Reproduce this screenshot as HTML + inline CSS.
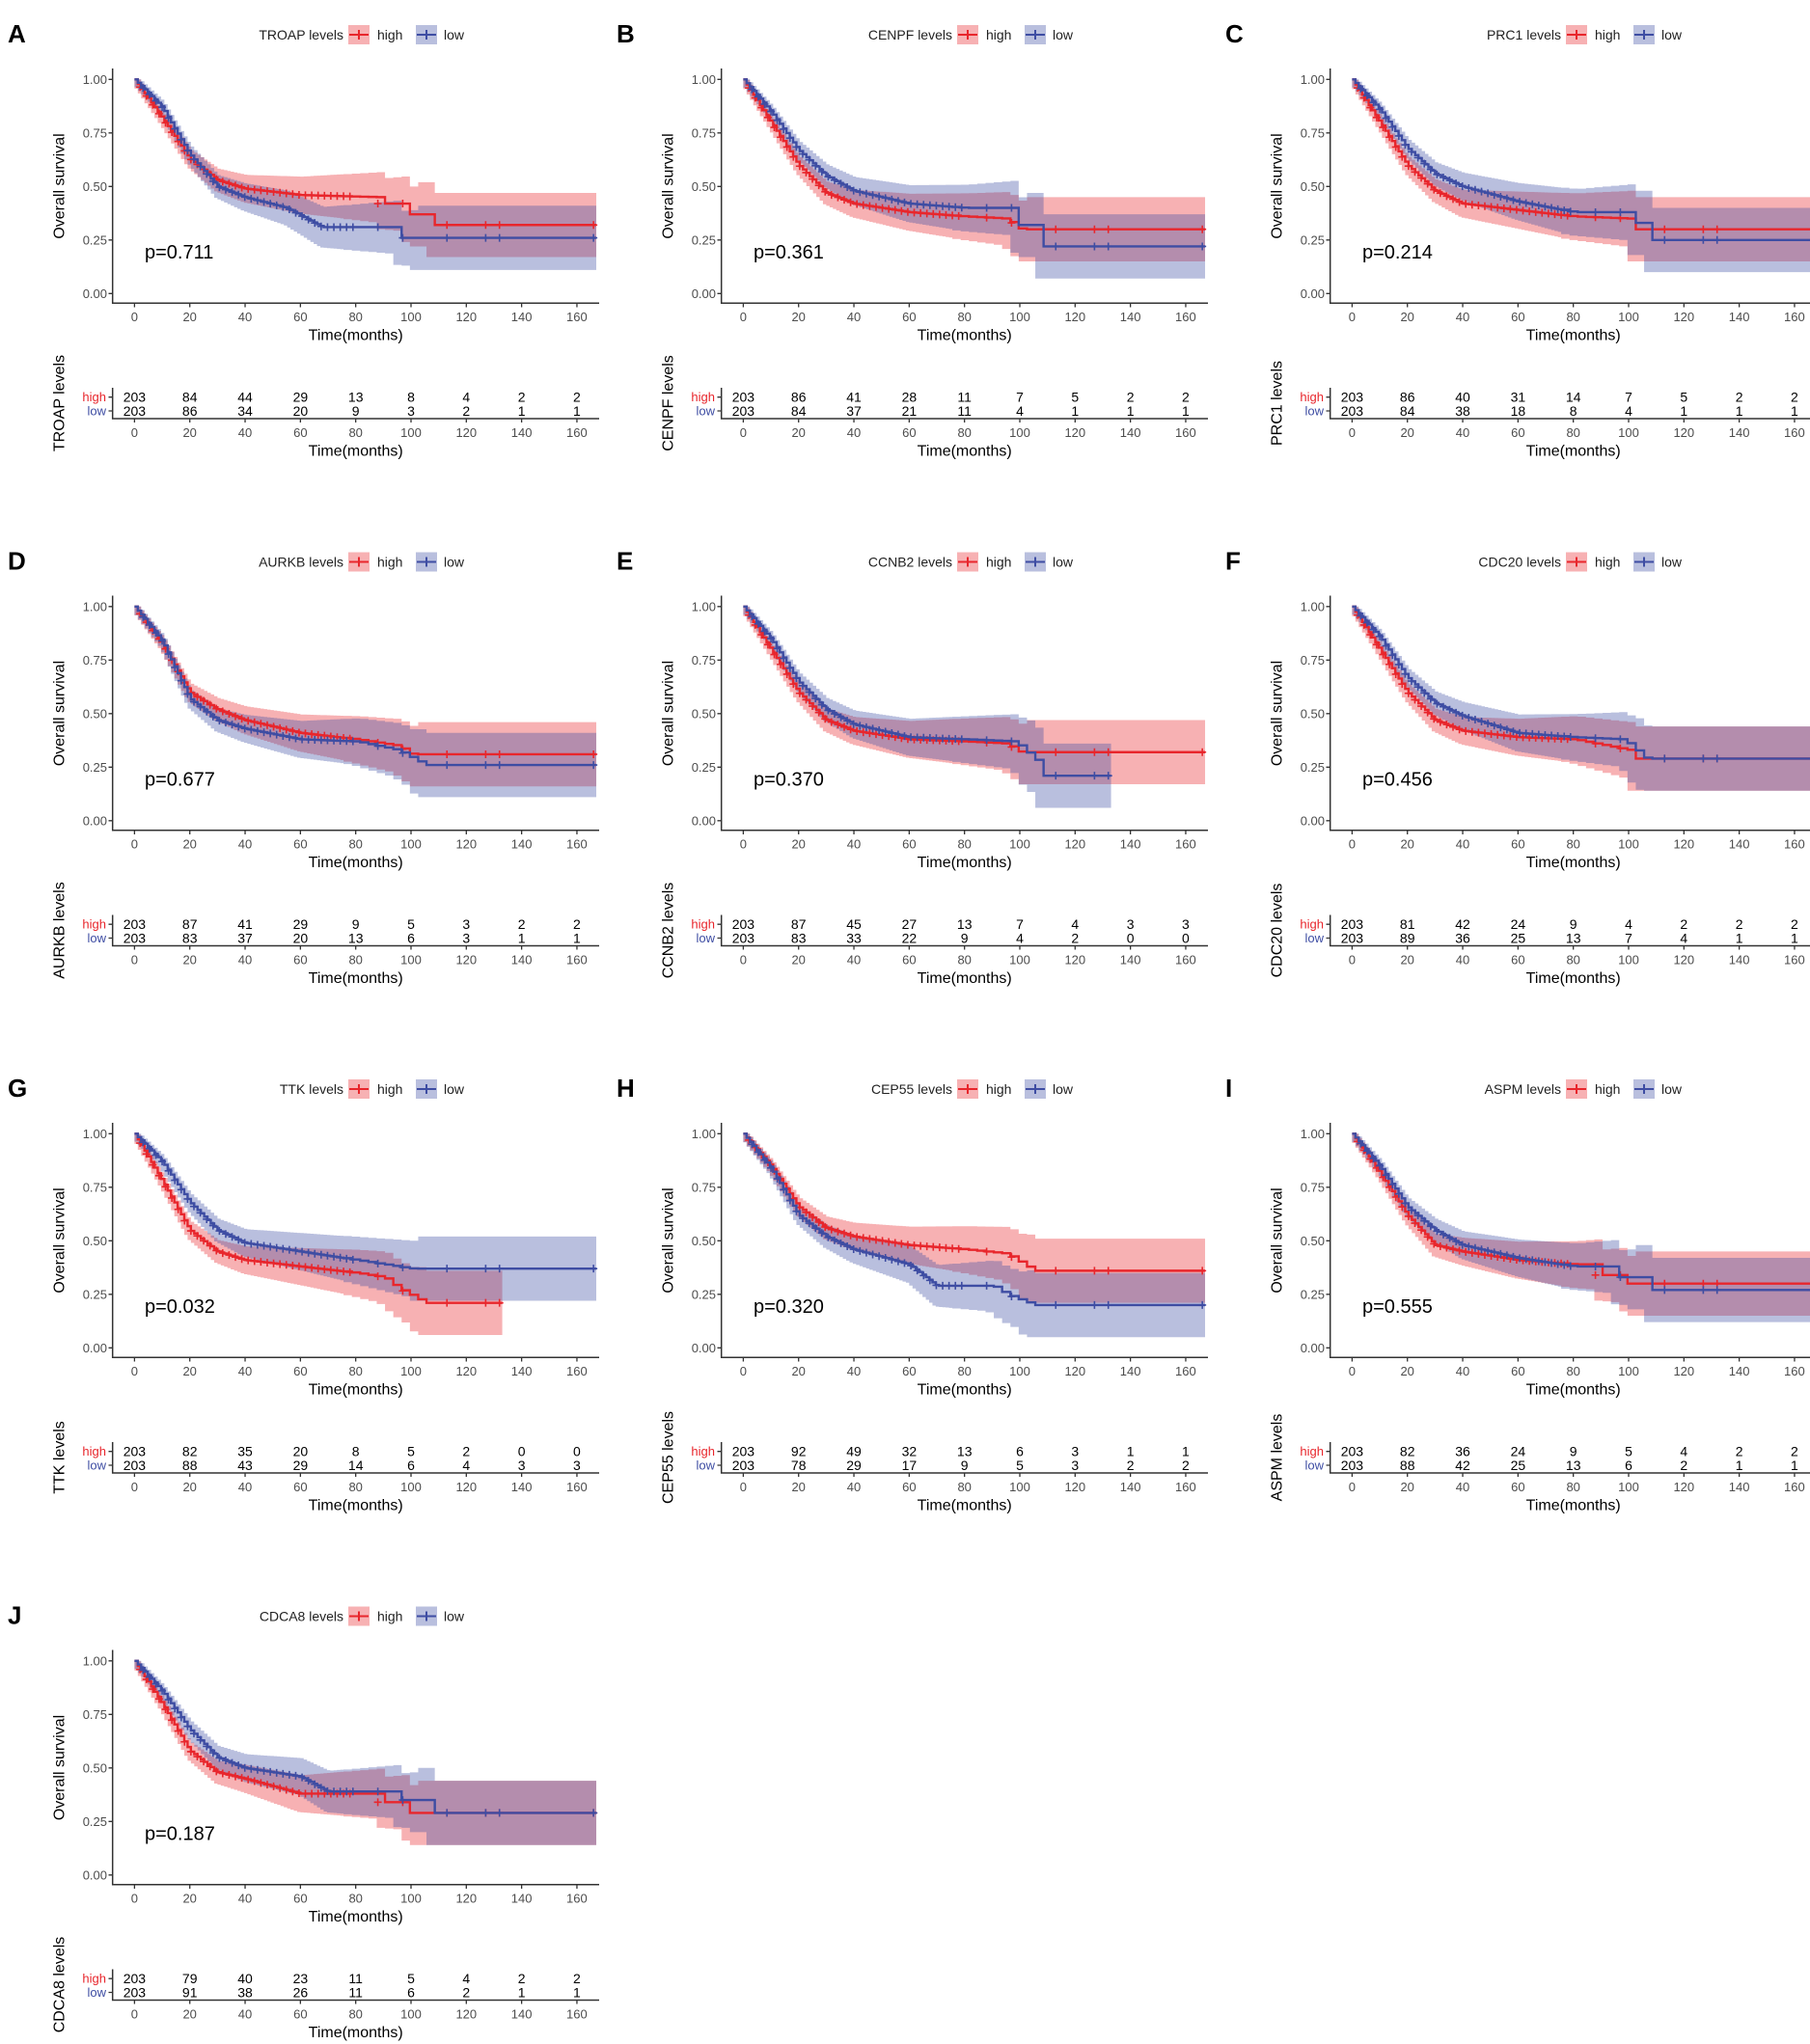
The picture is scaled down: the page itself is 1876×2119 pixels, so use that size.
<!DOCTYPE html>
<html><head><meta charset="utf-8">
<style>
html,body{margin:0;padding:0;background:#fff;}
svg{display:block;font-family:"Liberation Sans",Arial,sans-serif;}
.lt{font-size:26px;font-weight:bold;fill:#000;dominant-baseline:central;}
.lg{font-size:14px;fill:#222;dominant-baseline:central;}
.yt{font-size:13px;fill:#4d4d4d;text-anchor:end;dominant-baseline:central;}
.xt{font-size:13px;fill:#4d4d4d;text-anchor:middle;dominant-baseline:central;}
.xl{font-size:16px;fill:#000;text-anchor:middle;dominant-baseline:central;}
.pv{font-size:20px;fill:#000;dominant-baseline:central;}
.n{font-size:14px;fill:#000;text-anchor:middle;dominant-baseline:central;}
.hl{font-size:13px;fill:#e8262c;text-anchor:end;dominant-baseline:central;}
.lw{font-size:13px;fill:#3e4da3;text-anchor:end;dominant-baseline:central;}
</style></head><body>
<svg id="s" width="1876" height="2119" viewBox="0 0 1876 2119" xmlns="http://www.w3.org/2000/svg">
<rect width="1876" height="2119" fill="#fff"/>

<!-- Panel A -->
<g transform="translate(0,0)">
<g class="plot" data-k="A"></g>
<text x="8" y="35" class="lt">A</text>
<text x="356" y="36" class="lg" text-anchor="end">TROAP levels</text><text x="391" y="36" class="lg">high</text><text x="460" y="36" class="lg">low</text>
<text x="150" y="262" class="pv">p=0.711</text>
<text class="yt" x="111" y="82.3">1.00</text><text class="yt" x="111" y="137.8">0.75</text><text class="yt" x="111" y="193.3">0.50</text><text class="yt" x="111" y="248.8">0.25</text><text class="yt" x="111" y="304.3">0.00</text>
<text class="xt" y="328"><tspan x="139.4">0</tspan><tspan x="196.7">20</tspan><tspan x="254">40</tspan><tspan x="311.4">60</tspan><tspan x="368.7">80</tspan><tspan x="426">100</tspan><tspan x="483.3">120</tspan><tspan x="540.6">140</tspan><tspan x="597.9">160</tspan></text>
<text class="xl" x="368.7" y="348">Time(months)</text>
<text class="xl" transform="translate(62,193) rotate(-90)">Overall survival</text>
<text class="hl" x="110" y="411.7">high</text><text class="lw" x="110" y="426">low</text>
<text class="xt" y="448"><tspan x="139.4">0</tspan><tspan x="196.7">20</tspan><tspan x="254">40</tspan><tspan x="311.4">60</tspan><tspan x="368.7">80</tspan><tspan x="426">100</tspan><tspan x="483.3">120</tspan><tspan x="540.6">140</tspan><tspan x="597.9">160</tspan></text>
<text class="xl" x="368.7" y="468">Time(months)</text>
<text class="n" y="411.7"><tspan x="139.4">203</tspan><tspan x="196.7">84</tspan><tspan x="254">44</tspan><tspan x="311.4">29</tspan><tspan x="368.7">13</tspan><tspan x="426">8</tspan><tspan x="483.3">4</tspan><tspan x="540.6">2</tspan><tspan x="597.9">2</tspan></text>
<text class="n" y="426"><tspan x="139.4">203</tspan><tspan x="196.7">86</tspan><tspan x="254">34</tspan><tspan x="311.4">20</tspan><tspan x="368.7">9</tspan><tspan x="426">3</tspan><tspan x="483.3">2</tspan><tspan x="540.6">1</tspan><tspan x="597.9">1</tspan></text>
<text class="xl" transform="translate(62,418) rotate(-90)">TROAP levels</text>
</g>

<!-- Panel B -->
<g transform="translate(631,0)">
<g class="plot" data-k="B"></g>
<text x="8" y="35" class="lt">B</text>
<text x="356" y="36" class="lg" text-anchor="end">CENPF levels</text><text x="391" y="36" class="lg">high</text><text x="460" y="36" class="lg">low</text>
<text x="150" y="262" class="pv">p=0.361</text>
<text class="yt" x="111" y="82.3">1.00</text><text class="yt" x="111" y="137.8">0.75</text><text class="yt" x="111" y="193.3">0.50</text><text class="yt" x="111" y="248.8">0.25</text><text class="yt" x="111" y="304.3">0.00</text>
<text class="xt" y="328"><tspan x="139.4">0</tspan><tspan x="196.7">20</tspan><tspan x="254">40</tspan><tspan x="311.4">60</tspan><tspan x="368.7">80</tspan><tspan x="426">100</tspan><tspan x="483.3">120</tspan><tspan x="540.6">140</tspan><tspan x="597.9">160</tspan></text>
<text class="xl" x="368.7" y="348">Time(months)</text>
<text class="xl" transform="translate(62,193) rotate(-90)">Overall survival</text>
<text class="hl" x="110" y="411.7">high</text><text class="lw" x="110" y="426">low</text>
<text class="xt" y="448"><tspan x="139.4">0</tspan><tspan x="196.7">20</tspan><tspan x="254">40</tspan><tspan x="311.4">60</tspan><tspan x="368.7">80</tspan><tspan x="426">100</tspan><tspan x="483.3">120</tspan><tspan x="540.6">140</tspan><tspan x="597.9">160</tspan></text>
<text class="xl" x="368.7" y="468">Time(months)</text>
<text class="n" y="411.7"><tspan x="139.4">203</tspan><tspan x="196.7">86</tspan><tspan x="254">41</tspan><tspan x="311.4">28</tspan><tspan x="368.7">11</tspan><tspan x="426">7</tspan><tspan x="483.3">5</tspan><tspan x="540.6">2</tspan><tspan x="597.9">2</tspan></text>
<text class="n" y="426"><tspan x="139.4">203</tspan><tspan x="196.7">84</tspan><tspan x="254">37</tspan><tspan x="311.4">21</tspan><tspan x="368.7">11</tspan><tspan x="426">4</tspan><tspan x="483.3">1</tspan><tspan x="540.6">1</tspan><tspan x="597.9">1</tspan></text>
<text class="xl" transform="translate(62,418) rotate(-90)">CENPF levels</text>
</g>

<!-- Panel C -->
<g transform="translate(1262,0)">
<g class="plot" data-k="C"></g>
<text x="8" y="35" class="lt">C</text>
<text x="356" y="36" class="lg" text-anchor="end">PRC1 levels</text><text x="391" y="36" class="lg">high</text><text x="460" y="36" class="lg">low</text>
<text x="150" y="262" class="pv">p=0.214</text>
<text class="yt" x="111" y="82.3">1.00</text><text class="yt" x="111" y="137.8">0.75</text><text class="yt" x="111" y="193.3">0.50</text><text class="yt" x="111" y="248.8">0.25</text><text class="yt" x="111" y="304.3">0.00</text>
<text class="xt" y="328"><tspan x="139.4">0</tspan><tspan x="196.7">20</tspan><tspan x="254">40</tspan><tspan x="311.4">60</tspan><tspan x="368.7">80</tspan><tspan x="426">100</tspan><tspan x="483.3">120</tspan><tspan x="540.6">140</tspan><tspan x="597.9">160</tspan></text>
<text class="xl" x="368.7" y="348">Time(months)</text>
<text class="xl" transform="translate(62,193) rotate(-90)">Overall survival</text>
<text class="hl" x="110" y="411.7">high</text><text class="lw" x="110" y="426">low</text>
<text class="xt" y="448"><tspan x="139.4">0</tspan><tspan x="196.7">20</tspan><tspan x="254">40</tspan><tspan x="311.4">60</tspan><tspan x="368.7">80</tspan><tspan x="426">100</tspan><tspan x="483.3">120</tspan><tspan x="540.6">140</tspan><tspan x="597.9">160</tspan></text>
<text class="xl" x="368.7" y="468">Time(months)</text>
<text class="n" y="411.7"><tspan x="139.4">203</tspan><tspan x="196.7">86</tspan><tspan x="254">40</tspan><tspan x="311.4">31</tspan><tspan x="368.7">14</tspan><tspan x="426">7</tspan><tspan x="483.3">5</tspan><tspan x="540.6">2</tspan><tspan x="597.9">2</tspan></text>
<text class="n" y="426"><tspan x="139.4">203</tspan><tspan x="196.7">84</tspan><tspan x="254">38</tspan><tspan x="311.4">18</tspan><tspan x="368.7">8</tspan><tspan x="426">4</tspan><tspan x="483.3">1</tspan><tspan x="540.6">1</tspan><tspan x="597.9">1</tspan></text>
<text class="xl" transform="translate(62,418) rotate(-90)">PRC1 levels</text>
</g>

<!-- Panel D -->
<g transform="translate(0,546.5)">
<g class="plot" data-k="D"></g>
<text x="8" y="35" class="lt">D</text>
<text x="356" y="36" class="lg" text-anchor="end">AURKB levels</text><text x="391" y="36" class="lg">high</text><text x="460" y="36" class="lg">low</text>
<text x="150" y="262" class="pv">p=0.677</text>
<text class="yt" x="111" y="82.3">1.00</text><text class="yt" x="111" y="137.8">0.75</text><text class="yt" x="111" y="193.3">0.50</text><text class="yt" x="111" y="248.8">0.25</text><text class="yt" x="111" y="304.3">0.00</text>
<text class="xt" y="328"><tspan x="139.4">0</tspan><tspan x="196.7">20</tspan><tspan x="254">40</tspan><tspan x="311.4">60</tspan><tspan x="368.7">80</tspan><tspan x="426">100</tspan><tspan x="483.3">120</tspan><tspan x="540.6">140</tspan><tspan x="597.9">160</tspan></text>
<text class="xl" x="368.7" y="348">Time(months)</text>
<text class="xl" transform="translate(62,193) rotate(-90)">Overall survival</text>
<text class="hl" x="110" y="411.7">high</text><text class="lw" x="110" y="426">low</text>
<text class="xt" y="448"><tspan x="139.4">0</tspan><tspan x="196.7">20</tspan><tspan x="254">40</tspan><tspan x="311.4">60</tspan><tspan x="368.7">80</tspan><tspan x="426">100</tspan><tspan x="483.3">120</tspan><tspan x="540.6">140</tspan><tspan x="597.9">160</tspan></text>
<text class="xl" x="368.7" y="468">Time(months)</text>
<text class="n" y="411.7"><tspan x="139.4">203</tspan><tspan x="196.7">87</tspan><tspan x="254">41</tspan><tspan x="311.4">29</tspan><tspan x="368.7">9</tspan><tspan x="426">5</tspan><tspan x="483.3">3</tspan><tspan x="540.6">2</tspan><tspan x="597.9">2</tspan></text>
<text class="n" y="426"><tspan x="139.4">203</tspan><tspan x="196.7">83</tspan><tspan x="254">37</tspan><tspan x="311.4">20</tspan><tspan x="368.7">13</tspan><tspan x="426">6</tspan><tspan x="483.3">3</tspan><tspan x="540.6">1</tspan><tspan x="597.9">1</tspan></text>
<text class="xl" transform="translate(62,418) rotate(-90)">AURKB levels</text>
</g>

<!-- Panel E -->
<g transform="translate(631,546.5)">
<g class="plot" data-k="E"></g>
<text x="8" y="35" class="lt">E</text>
<text x="356" y="36" class="lg" text-anchor="end">CCNB2 levels</text><text x="391" y="36" class="lg">high</text><text x="460" y="36" class="lg">low</text>
<text x="150" y="262" class="pv">p=0.370</text>
<text class="yt" x="111" y="82.3">1.00</text><text class="yt" x="111" y="137.8">0.75</text><text class="yt" x="111" y="193.3">0.50</text><text class="yt" x="111" y="248.8">0.25</text><text class="yt" x="111" y="304.3">0.00</text>
<text class="xt" y="328"><tspan x="139.4">0</tspan><tspan x="196.7">20</tspan><tspan x="254">40</tspan><tspan x="311.4">60</tspan><tspan x="368.7">80</tspan><tspan x="426">100</tspan><tspan x="483.3">120</tspan><tspan x="540.6">140</tspan><tspan x="597.9">160</tspan></text>
<text class="xl" x="368.7" y="348">Time(months)</text>
<text class="xl" transform="translate(62,193) rotate(-90)">Overall survival</text>
<text class="hl" x="110" y="411.7">high</text><text class="lw" x="110" y="426">low</text>
<text class="xt" y="448"><tspan x="139.4">0</tspan><tspan x="196.7">20</tspan><tspan x="254">40</tspan><tspan x="311.4">60</tspan><tspan x="368.7">80</tspan><tspan x="426">100</tspan><tspan x="483.3">120</tspan><tspan x="540.6">140</tspan><tspan x="597.9">160</tspan></text>
<text class="xl" x="368.7" y="468">Time(months)</text>
<text class="n" y="411.7"><tspan x="139.4">203</tspan><tspan x="196.7">87</tspan><tspan x="254">45</tspan><tspan x="311.4">27</tspan><tspan x="368.7">13</tspan><tspan x="426">7</tspan><tspan x="483.3">4</tspan><tspan x="540.6">3</tspan><tspan x="597.9">3</tspan></text>
<text class="n" y="426"><tspan x="139.4">203</tspan><tspan x="196.7">83</tspan><tspan x="254">33</tspan><tspan x="311.4">22</tspan><tspan x="368.7">9</tspan><tspan x="426">4</tspan><tspan x="483.3">2</tspan><tspan x="540.6">0</tspan><tspan x="597.9">0</tspan></text>
<text class="xl" transform="translate(62,418) rotate(-90)">CCNB2 levels</text>
</g>

<!-- Panel F -->
<g transform="translate(1262,546.5)">
<g class="plot" data-k="F"></g>
<text x="8" y="35" class="lt">F</text>
<text x="356" y="36" class="lg" text-anchor="end">CDC20 levels</text><text x="391" y="36" class="lg">high</text><text x="460" y="36" class="lg">low</text>
<text x="150" y="262" class="pv">p=0.456</text>
<text class="yt" x="111" y="82.3">1.00</text><text class="yt" x="111" y="137.8">0.75</text><text class="yt" x="111" y="193.3">0.50</text><text class="yt" x="111" y="248.8">0.25</text><text class="yt" x="111" y="304.3">0.00</text>
<text class="xt" y="328"><tspan x="139.4">0</tspan><tspan x="196.7">20</tspan><tspan x="254">40</tspan><tspan x="311.4">60</tspan><tspan x="368.7">80</tspan><tspan x="426">100</tspan><tspan x="483.3">120</tspan><tspan x="540.6">140</tspan><tspan x="597.9">160</tspan></text>
<text class="xl" x="368.7" y="348">Time(months)</text>
<text class="xl" transform="translate(62,193) rotate(-90)">Overall survival</text>
<text class="hl" x="110" y="411.7">high</text><text class="lw" x="110" y="426">low</text>
<text class="xt" y="448"><tspan x="139.4">0</tspan><tspan x="196.7">20</tspan><tspan x="254">40</tspan><tspan x="311.4">60</tspan><tspan x="368.7">80</tspan><tspan x="426">100</tspan><tspan x="483.3">120</tspan><tspan x="540.6">140</tspan><tspan x="597.9">160</tspan></text>
<text class="xl" x="368.7" y="468">Time(months)</text>
<text class="n" y="411.7"><tspan x="139.4">203</tspan><tspan x="196.7">81</tspan><tspan x="254">42</tspan><tspan x="311.4">24</tspan><tspan x="368.7">9</tspan><tspan x="426">4</tspan><tspan x="483.3">2</tspan><tspan x="540.6">2</tspan><tspan x="597.9">2</tspan></text>
<text class="n" y="426"><tspan x="139.4">203</tspan><tspan x="196.7">89</tspan><tspan x="254">36</tspan><tspan x="311.4">25</tspan><tspan x="368.7">13</tspan><tspan x="426">7</tspan><tspan x="483.3">4</tspan><tspan x="540.6">1</tspan><tspan x="597.9">1</tspan></text>
<text class="xl" transform="translate(62,418) rotate(-90)">CDC20 levels</text>
</g>

<!-- Panel G -->
<g transform="translate(0,1093)">
<g class="plot" data-k="G"></g>
<text x="8" y="35" class="lt">G</text>
<text x="356" y="36" class="lg" text-anchor="end">TTK levels</text><text x="391" y="36" class="lg">high</text><text x="460" y="36" class="lg">low</text>
<text x="150" y="262" class="pv">p=0.032</text>
<text class="yt" x="111" y="82.3">1.00</text><text class="yt" x="111" y="137.8">0.75</text><text class="yt" x="111" y="193.3">0.50</text><text class="yt" x="111" y="248.8">0.25</text><text class="yt" x="111" y="304.3">0.00</text>
<text class="xt" y="328"><tspan x="139.4">0</tspan><tspan x="196.7">20</tspan><tspan x="254">40</tspan><tspan x="311.4">60</tspan><tspan x="368.7">80</tspan><tspan x="426">100</tspan><tspan x="483.3">120</tspan><tspan x="540.6">140</tspan><tspan x="597.9">160</tspan></text>
<text class="xl" x="368.7" y="348">Time(months)</text>
<text class="xl" transform="translate(62,193) rotate(-90)">Overall survival</text>
<text class="hl" x="110" y="411.7">high</text><text class="lw" x="110" y="426">low</text>
<text class="xt" y="448"><tspan x="139.4">0</tspan><tspan x="196.7">20</tspan><tspan x="254">40</tspan><tspan x="311.4">60</tspan><tspan x="368.7">80</tspan><tspan x="426">100</tspan><tspan x="483.3">120</tspan><tspan x="540.6">140</tspan><tspan x="597.9">160</tspan></text>
<text class="xl" x="368.7" y="468">Time(months)</text>
<text class="n" y="411.7"><tspan x="139.4">203</tspan><tspan x="196.7">82</tspan><tspan x="254">35</tspan><tspan x="311.4">20</tspan><tspan x="368.7">8</tspan><tspan x="426">5</tspan><tspan x="483.3">2</tspan><tspan x="540.6">0</tspan><tspan x="597.9">0</tspan></text>
<text class="n" y="426"><tspan x="139.4">203</tspan><tspan x="196.7">88</tspan><tspan x="254">43</tspan><tspan x="311.4">29</tspan><tspan x="368.7">14</tspan><tspan x="426">6</tspan><tspan x="483.3">4</tspan><tspan x="540.6">3</tspan><tspan x="597.9">3</tspan></text>
<text class="xl" transform="translate(62,418) rotate(-90)">TTK levels</text>
</g>

<!-- Panel H -->
<g transform="translate(631,1093)">
<g class="plot" data-k="H"></g>
<text x="8" y="35" class="lt">H</text>
<text x="356" y="36" class="lg" text-anchor="end">CEP55 levels</text><text x="391" y="36" class="lg">high</text><text x="460" y="36" class="lg">low</text>
<text x="150" y="262" class="pv">p=0.320</text>
<text class="yt" x="111" y="82.3">1.00</text><text class="yt" x="111" y="137.8">0.75</text><text class="yt" x="111" y="193.3">0.50</text><text class="yt" x="111" y="248.8">0.25</text><text class="yt" x="111" y="304.3">0.00</text>
<text class="xt" y="328"><tspan x="139.4">0</tspan><tspan x="196.7">20</tspan><tspan x="254">40</tspan><tspan x="311.4">60</tspan><tspan x="368.7">80</tspan><tspan x="426">100</tspan><tspan x="483.3">120</tspan><tspan x="540.6">140</tspan><tspan x="597.9">160</tspan></text>
<text class="xl" x="368.7" y="348">Time(months)</text>
<text class="xl" transform="translate(62,193) rotate(-90)">Overall survival</text>
<text class="hl" x="110" y="411.7">high</text><text class="lw" x="110" y="426">low</text>
<text class="xt" y="448"><tspan x="139.4">0</tspan><tspan x="196.7">20</tspan><tspan x="254">40</tspan><tspan x="311.4">60</tspan><tspan x="368.7">80</tspan><tspan x="426">100</tspan><tspan x="483.3">120</tspan><tspan x="540.6">140</tspan><tspan x="597.9">160</tspan></text>
<text class="xl" x="368.7" y="468">Time(months)</text>
<text class="n" y="411.7"><tspan x="139.4">203</tspan><tspan x="196.7">92</tspan><tspan x="254">49</tspan><tspan x="311.4">32</tspan><tspan x="368.7">13</tspan><tspan x="426">6</tspan><tspan x="483.3">3</tspan><tspan x="540.6">1</tspan><tspan x="597.9">1</tspan></text>
<text class="n" y="426"><tspan x="139.4">203</tspan><tspan x="196.7">78</tspan><tspan x="254">29</tspan><tspan x="311.4">17</tspan><tspan x="368.7">9</tspan><tspan x="426">5</tspan><tspan x="483.3">3</tspan><tspan x="540.6">2</tspan><tspan x="597.9">2</tspan></text>
<text class="xl" transform="translate(62,418) rotate(-90)">CEP55 levels</text>
</g>

<!-- Panel I -->
<g transform="translate(1262,1093)">
<g class="plot" data-k="I"></g>
<text x="8" y="35" class="lt">I</text>
<text x="356" y="36" class="lg" text-anchor="end">ASPM levels</text><text x="391" y="36" class="lg">high</text><text x="460" y="36" class="lg">low</text>
<text x="150" y="262" class="pv">p=0.555</text>
<text class="yt" x="111" y="82.3">1.00</text><text class="yt" x="111" y="137.8">0.75</text><text class="yt" x="111" y="193.3">0.50</text><text class="yt" x="111" y="248.8">0.25</text><text class="yt" x="111" y="304.3">0.00</text>
<text class="xt" y="328"><tspan x="139.4">0</tspan><tspan x="196.7">20</tspan><tspan x="254">40</tspan><tspan x="311.4">60</tspan><tspan x="368.7">80</tspan><tspan x="426">100</tspan><tspan x="483.3">120</tspan><tspan x="540.6">140</tspan><tspan x="597.9">160</tspan></text>
<text class="xl" x="368.7" y="348">Time(months)</text>
<text class="xl" transform="translate(62,193) rotate(-90)">Overall survival</text>
<text class="hl" x="110" y="411.7">high</text><text class="lw" x="110" y="426">low</text>
<text class="xt" y="448"><tspan x="139.4">0</tspan><tspan x="196.7">20</tspan><tspan x="254">40</tspan><tspan x="311.4">60</tspan><tspan x="368.7">80</tspan><tspan x="426">100</tspan><tspan x="483.3">120</tspan><tspan x="540.6">140</tspan><tspan x="597.9">160</tspan></text>
<text class="xl" x="368.7" y="468">Time(months)</text>
<text class="n" y="411.7"><tspan x="139.4">203</tspan><tspan x="196.7">82</tspan><tspan x="254">36</tspan><tspan x="311.4">24</tspan><tspan x="368.7">9</tspan><tspan x="426">5</tspan><tspan x="483.3">4</tspan><tspan x="540.6">2</tspan><tspan x="597.9">2</tspan></text>
<text class="n" y="426"><tspan x="139.4">203</tspan><tspan x="196.7">88</tspan><tspan x="254">42</tspan><tspan x="311.4">25</tspan><tspan x="368.7">13</tspan><tspan x="426">6</tspan><tspan x="483.3">2</tspan><tspan x="540.6">1</tspan><tspan x="597.9">1</tspan></text>
<text class="xl" transform="translate(62,418) rotate(-90)">ASPM levels</text>
</g>

<!-- Panel J -->
<g transform="translate(0,1639.5)">
<g class="plot" data-k="J"></g>
<text x="8" y="35" class="lt">J</text>
<text x="356" y="36" class="lg" text-anchor="end">CDCA8 levels</text><text x="391" y="36" class="lg">high</text><text x="460" y="36" class="lg">low</text>
<text x="150" y="262" class="pv">p=0.187</text>
<text class="yt" x="111" y="82.3">1.00</text><text class="yt" x="111" y="137.8">0.75</text><text class="yt" x="111" y="193.3">0.50</text><text class="yt" x="111" y="248.8">0.25</text><text class="yt" x="111" y="304.3">0.00</text>
<text class="xt" y="328"><tspan x="139.4">0</tspan><tspan x="196.7">20</tspan><tspan x="254">40</tspan><tspan x="311.4">60</tspan><tspan x="368.7">80</tspan><tspan x="426">100</tspan><tspan x="483.3">120</tspan><tspan x="540.6">140</tspan><tspan x="597.9">160</tspan></text>
<text class="xl" x="368.7" y="348">Time(months)</text>
<text class="xl" transform="translate(62,193) rotate(-90)">Overall survival</text>
<text class="hl" x="110" y="411.7">high</text><text class="lw" x="110" y="426">low</text>
<text class="xt" y="448"><tspan x="139.4">0</tspan><tspan x="196.7">20</tspan><tspan x="254">40</tspan><tspan x="311.4">60</tspan><tspan x="368.7">80</tspan><tspan x="426">100</tspan><tspan x="483.3">120</tspan><tspan x="540.6">140</tspan><tspan x="597.9">160</tspan></text>
<text class="xl" x="368.7" y="468">Time(months)</text>
<text class="n" y="411.7"><tspan x="139.4">203</tspan><tspan x="196.7">79</tspan><tspan x="254">40</tspan><tspan x="311.4">23</tspan><tspan x="368.7">11</tspan><tspan x="426">5</tspan><tspan x="483.3">4</tspan><tspan x="540.6">2</tspan><tspan x="597.9">2</tspan></text>
<text class="n" y="426"><tspan x="139.4">203</tspan><tspan x="196.7">91</tspan><tspan x="254">38</tspan><tspan x="311.4">26</tspan><tspan x="368.7">11</tspan><tspan x="426">6</tspan><tspan x="483.3">2</tspan><tspan x="540.6">1</tspan><tspan x="597.9">1</tspan></text>
<text class="xl" transform="translate(62,418) rotate(-90)">CDCA8 levels</text>
</g>
</svg>
<script>
(function(){
var NS="http://www.w3.org/2000/svg";
var RED="#e8262c",BLUE="#3e4da3";
function X(t){return 139.4+t*2.866;}
function Y(v){return 82.3+(1-v)*222;}
var D={
A:{h:[[0,1],[10,.82],[20,.63],[30,.53],[40,.49],[60,.46],[88,.45],[88,.42],[98,.42],[98,.37],[106,.37],[106,.32],[167,.32]],
   l:[[0,1],[10,.87],[20,.65],[30,.5],[40,.45],[55,.40],[68,.31],[94,.31],[94,.26],[167,.26]],he:167,le:167},
B:{h:[[0,1],[10,.8],[20,.6],[30,.47],[40,.42],[60,.38],[80,.36],[95,.35],[100,.3],[167,.3]],
   l:[[0,1],[10,.85],[20,.67],[30,.55],[40,.48],[60,.42],[80,.4],[98,.4],[98,.32],[106,.32],[106,.22],[167,.22]],he:167,le:167},
C:{h:[[0,1],[10,.8],[20,.6],[30,.48],[40,.42],[60,.39],[80,.36],[100,.35],[100,.3],[167,.3]],
   l:[[0,1],[10,.86],[20,.68],[30,.56],[40,.5],[60,.43],[80,.38],[100,.38],[100,.33],[106,.33],[106,.25],[167,.25]],he:167,le:167},
D:{h:[[0,1],[10,.83],[20,.6],[30,.52],[40,.47],[60,.41],[80,.38],[95,.35],[100,.31],[167,.31]],
   l:[[0,1],[10,.84],[20,.57],[30,.47],[40,.43],[60,.38],[80,.37],[95,.33],[105,.26],[167,.26]],he:167,le:167},
E:{h:[[0,1],[10,.8],[20,.6],[30,.47],[40,.42],[60,.38],[80,.37],[95,.36],[100,.32],[167,.32]],
   l:[[0,1],[10,.85],[20,.65],[30,.52],[40,.45],[60,.39],[80,.38],[98,.37],[106,.28],[106,.21],[133,.21]],he:167,le:133},
F:{h:[[0,1],[10,.8],[20,.6],[30,.47],[40,.42],[60,.39],[80,.38],[100,.33],[100,.29],[167,.29]],
   l:[[0,1],[10,.86],[20,.67],[30,.55],[40,.49],[60,.41],[80,.39],[98,.38],[106,.29],[167,.29]],he:167,le:167},
G:{h:[[0,1],[10,.78],[20,.55],[30,.45],[40,.41],[60,.38],[80,.35],[90,.33],[95,.28],[105,.21],[133,.21]],
   l:[[0,1],[10,.87],[20,.68],[30,.55],[40,.49],[60,.45],[80,.41],[100,.37],[167,.37]],he:133,le:167},
H:{h:[[0,1],[10,.85],[20,.66],[30,.56],[40,.52],[60,.48],[80,.46],[95,.44],[105,.36],[167,.36]],
   l:[[0,1],[10,.84],[20,.62],[30,.52],[40,.46],[60,.39],[70,.29],[90,.29],[95,.25],[105,.2],[167,.2]],he:167,le:167},
I:{h:[[0,1],[10,.82],[20,.62],[30,.48],[40,.45],[60,.41],[80,.39],[88,.39],[88,.34],[98,.34],[98,.30],[167,.30]],
   l:[[0,1],[10,.85],[20,.66],[30,.55],[40,.48],[60,.42],[80,.38],[94,.38],[94,.33],[106,.33],[106,.27],[167,.27]],he:167,le:167},
J:{h:[[0,1],[10,.8],[20,.58],[30,.48],[40,.45],[60,.38],[80,.38],[88,.38],[88,.34],[98,.34],[98,.29],[167,.29]],
   l:[[0,1],[10,.86],[20,.68],[30,.55],[40,.5],[60,.46],[70,.39],[94,.39],[94,.35],[106,.35],[106,.29],[167,.29]],he:167,le:167}
};
function S(pts,t){
  var v=pts[0][1];
  for(var i=0;i<pts.length-1;i++){
    var a=pts[i],b=pts[i+1];
    if(t>=a[0]&&t<b[0]){ if(b[0]==a[0])return b[1]; return a[1]+(b[1]-a[1])*(t-a[0])/(b[0]-a[0]);}
    if(t>=b[0])v=b[1];
  }
  return v;
}
function times(end){var r=[],t=0;while(t<end){r.push(t);t+= t<75?1.2:3;}r.push(end);return r;}
function W(t){return t<100?0.02+0.0011*t:0.15;}
function el(n,a,p){var e=document.createElementNS(NS,n);for(var k in a)e.setAttribute(k,a[k]);p.appendChild(e);return e;}
function band(pts,end,col,g){
  var ts=times(end);
  var d="M"+X(0)+","+Y(1);
  for(var i=1;i<ts.length;i++){d+="H"+X(ts[i])+"V"+Y(Math.min(1,S(pts,ts[i])+W(ts[i])));}
  var last=ts[ts.length-1];
  d+="V"+Y(Math.max(0,S(pts,last)-W(last)));
  for(var i=ts.length-1;i>0;i--){d+="H"+X(ts[i-1])+"V"+Y(Math.max(0,S(pts,ts[i-1])-W(ts[i-1])));}
  d+="Z";
  el("path",{d:d,fill:col,"fill-opacity":0.36,stroke:"none"},g);
}
function line(pts,end,col,g,seed){
  var ts=times(end);var d="M"+X(0)+","+Y(1);
  for(var i=1;i<ts.length;i++){d+="H"+X(ts[i])+"V"+Y(S(pts,ts[i]));}
  el("path",{d:d,fill:"none",stroke:col,"stroke-width":2.4},g);
  var c="";var cs=[];
  for(var t=2+seed;t<80;t+=2.3)cs.push(t);
  [88,97,113,127,132].forEach(function(t){if(t<end)cs.push(t);});cs.push(end-1);
  cs.forEach(function(t){var x=X(t),y=Y(S(pts,t));c+="M"+(x-4)+","+y+"H"+(x+4)+"M"+x+","+(y-4)+"V"+(y+4);});
  el("path",{d:c,stroke:col,"stroke-width":1.6,fill:"none"},g);
}
var gs=document.querySelectorAll("g.plot");
for(var k=0;k<gs.length;k++){
  var g=gs[k],d=D[g.getAttribute("data-k")];
  band(d.h,d.he,RED,g);band(d.l,d.le,BLUE,g);
  line(d.h,d.he,RED,g,0);line(d.l,d.le,BLUE,g,1.1);
  var ax="#333";
  el("path",{d:"M116.7,71V314.3H621",fill:"none",stroke:ax,"stroke-width":1.5},g);
  var tk="";
  [0,.25,.5,.75,1].forEach(function(v){tk+="M112.5,"+Y(v)+"H116.7";});
  for(var t=0;t<=160;t+=20){tk+="M"+X(t)+",314.3V318.5M"+X(t)+",434V438";}
  tk+="M112.5,411.7H116.7M112.5,426H116.7";
  el("path",{d:tk,stroke:ax,"stroke-width":1.3,fill:"none"},g);
  el("path",{d:"M116.7,402V434H621",fill:"none",stroke:ax,"stroke-width":1.5},g);
  el("rect",{x:361,y:26,width:22,height:20,fill:RED,"fill-opacity":0.36},g);
  el("rect",{x:431,y:26,width:22,height:20,fill:BLUE,"fill-opacity":0.36},g);
  el("path",{d:"M362,36H382M372,31V41",stroke:RED,"stroke-width":2},g);
  el("path",{d:"M432,36H452M442,31V41",stroke:BLUE,"stroke-width":2},g);
}
})();
</script>
</body></html>
